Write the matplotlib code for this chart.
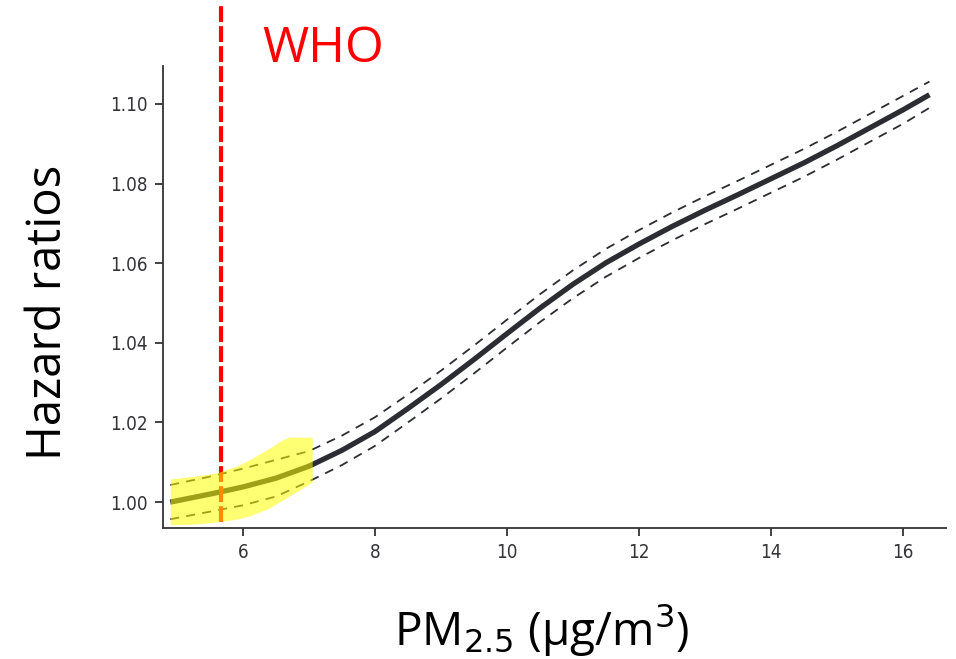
import numpy as np
import matplotlib
matplotlib.use("Agg")
import matplotlib.pyplot as plt
from matplotlib.transforms import blended_transform_factory

# exposure-response curve for PM2.5 (hazard ratio with 95% CI)
pm25 = [4.9, 5.5, 6.0, 6.5, 7.0, 7.5, 8.0, 8.5, 9.0, 9.5, 10.0, 10.5,
        11.0, 11.5, 12.0, 12.5, 13.0, 13.5, 14.0, 14.5, 15.0, 15.5, 16.0, 16.4]
hr = [1.0000, 1.0020, 1.0038, 1.0060, 1.0090, 1.0130, 1.0177, 1.0235, 1.0295,
      1.0358, 1.0423, 1.0487, 1.0547, 1.0601, 1.0648, 1.0692, 1.0733, 1.0772,
      1.0812, 1.0852, 1.0895, 1.0940, 1.0985, 1.1023]
hr_upper = [1.0043, 1.0064, 1.0084, 1.0106, 1.0128, 1.0167, 1.0213, 1.0270, 1.0330,
            1.0393, 1.0458, 1.0522, 1.0582, 1.0636, 1.0683, 1.0727, 1.0768, 1.0807,
            1.0847, 1.0887, 1.0930, 1.0975, 1.1020, 1.1056]
hr_lower = [0.9957, 0.9976, 0.9992, 1.0014, 1.0052, 1.0093, 1.0141, 1.0200, 1.0260,
            1.0323, 1.0388, 1.0452, 1.0512, 1.0566, 1.0613, 1.0657, 1.0698, 1.0737,
            1.0777, 1.0817, 1.0860, 1.0905, 1.0950, 1.0990]

# highlighted low-exposure region
band_x = [4.9, 5.3, 5.6, 5.9, 6.1, 6.4, 6.6, 6.7, 7.05]
band_top = [1.0058, 1.0066, 1.0073, 1.0090, 1.0106, 1.0135, 1.0156, 1.0163, 1.0163]
band_bottom = [0.9943, 0.9945, 0.9950, 0.9957, 0.9965, 0.9985, 1.0005, 1.0015, 1.0050]

who_guideline = 5.67

xticks = [6, 8, 10, 12, 14, 16]
yticks = [1.00, 1.02, 1.04, 1.06, 1.08, 1.10]

axis_color = "#333338"
line_color = "#2b2d33"

plt.rcParams.update({
    "font.family": ["Open Sans", "DejaVu Sans"],
    "axes.linewidth": 1.3,
    "axes.edgecolor": axis_color,
})

fig = plt.figure(figsize=(9.56, 6.59), dpi=100)
ax = fig.add_axes([0.1705, 0.1988, 0.819, 0.701])

ax.plot(pm25, hr, color=line_color, linewidth=3.8, solid_capstyle="butt",
        solid_joinstyle="round", zorder=3)
ax.plot(pm25, hr_upper, color=line_color, linewidth=1.3, dashes=(5, 4), zorder=3)
ax.plot(pm25, hr_lower, color=line_color, linewidth=1.3, dashes=(5, 4), zorder=3)

# WHO guideline, running above the plot area
ax.plot([who_guideline, who_guideline], [0.995, 1.1245], color="#ff0000",
        linewidth=3.0, dashes=(3.8, 1.0), clip_on=False, zorder=4)

ax.fill_between(band_x, band_bottom, band_top, color="#ffff00",
                alpha=0.55, linewidth=0, zorder=5)

trans = blended_transform_factory(ax.transData, fig.transFigure)
ax.text(6.29, 1 - 49 / 659, "WHO", transform=trans, color="#ff0000",
        fontsize=36, ha="left", va="center")

ax.set_xlim(4.79, 16.65)
ax.set_ylim(0.9935, 1.1095)
ax.set_xticks(xticks)
ax.set_yticks(yticks)
ax.set_xticklabels([str(t) for t in xticks])
ax.set_yticklabels([f"{t:.2f}" for t in yticks])

for side in ("top", "right"):
    ax.spines[side].set_visible(False)

ax.tick_params(axis="both", direction="out", length=6, width=1.3,
               color=axis_color, labelcolor=axis_color, labelsize=13.5, pad=5)
for lab in ax.get_xticklabels() + ax.get_yticklabels():
    lab.set_family(["DejaVu Sans"])
    lab.set_stretch("condensed")

ax.set_ylabel("Hazard ratios", fontsize=34)
ax.set_xlabel(r"PM$_{2.5}$ ($\mathregular{\mu}$g/m$^3$)", fontsize=33)
# axis titles sit a little off-centre
ax.yaxis.set_label_coords(-0.146, 0.467)
ax.yaxis.label.set_va("center")
ax.xaxis.set_label_coords(0.484, -0.158)

fig.savefig("out.png", dpi=100)
